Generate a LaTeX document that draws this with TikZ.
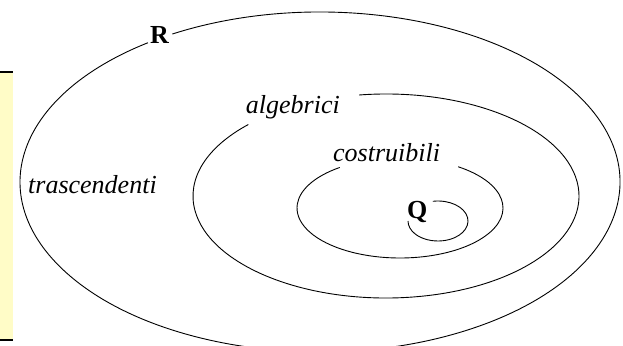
\documentclass[tikz,border=0pt]{standalone}
\usepackage{fontspec}
\setmainfont{Liberation Serif}
\usetikzlibrary{positioning}

\begin{document}
\begin{tikzpicture}[
    x=1pt, y=-1pt,
    every node/.style={font=\fontsize{26}{30}\selectfont, inner sep=0pt},
    setname/.style={font=\fontsize{26}{30}\selectfont\bfseries, anchor=base west},
    subset/.style={font=\fontsize{26}{30}\selectfont\itshape, anchor=base west},
    border/.style={line width=0.9pt},
    notebox/.style={fill=yellow!22},
]
\useasboundingbox (0,0) rectangle (623,345);
\clip (0,0) rectangle (623,345);

% Side box
\fill[notebox] (0,72) rectangle (13,340);
\draw[line width=1.2pt] (0,72) -- (13,72);
\draw[line width=1.2pt] (0,340) -- (13,340);

% Sets (open where the label sits)
\draw[border] (320,182) ++(-119.5:300 and 170)
    arc[start angle=-119.5, end angle=235, x radius=300, y radius=170];
\draw[border] (386,196) ++(-98:193 and 102)
    arc[start angle=-98, end angle=224.5, x radius=193, y radius=102];
\draw[border] (400,208) ++(-55.6:103 and 50)
    arc[start angle=-55.6, end angle=234.2, x radius=103, y radius=50];
\draw[border] (438,221) ++(-100:30 and 20)
    arc[start angle=-100, end angle=180, x radius=30, y radius=20];

% Labels
\node[setname] (reali) at (150,44) {R};
\node[subset] (trasc) at (28,193) {trascendenti};
\node[subset, anchor=base east] (alg) at (340,113) {algebrici};
\node[subset] (costr) at (333,161) {costruibili};
\node[setname] (razion) at (407,218) {Q};

\end{tikzpicture}
\end{document}
